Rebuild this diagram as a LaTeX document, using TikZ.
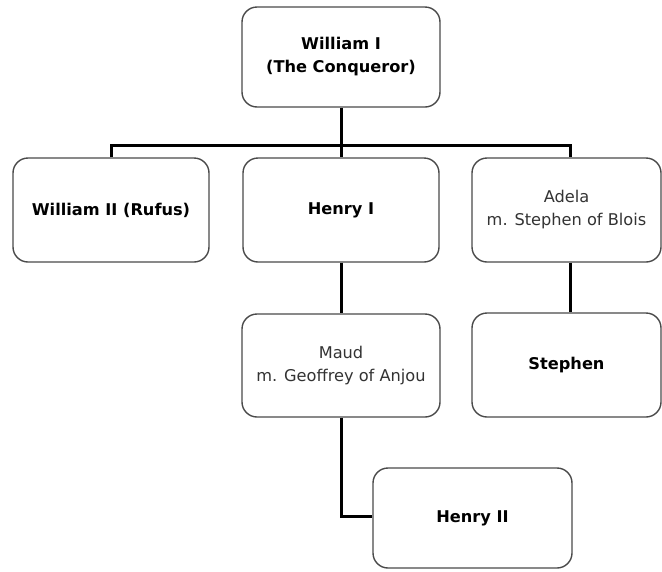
\documentclass[tikz,border=0pt]{standalone}
\usepackage{fontspec}
\setmainfont{DejaVu Sans}
\definecolor{boxline}{HTML}{4A4A4A}
\definecolor{softtext}{HTML}{333333}
\begin{document}
\begin{tikzpicture}[x=1pt,y=-1pt,
  person/.style={draw=boxline, line width=1.4pt, rounded corners=15pt, fill=white,
    minimum width=196pt, minimum height=104pt, align=center, inner sep=0pt,
    font=\fontsize{16.2pt}{23pt}\selectfont},
  boldname/.style={person, font=\fontsize{16.2pt}{23pt}\selectfont\bfseries},
  plainname/.style={person, text=softtext},
  conn/.style={draw=black, line width=3pt}]
\useasboundingbox (0,0) rectangle (662,571);
\node[boldname, minimum width=198pt, minimum height=100pt] (w1) at (341,57) {William I\\(The Conqueror)};
\node[boldname] (w2) at (111,210) {William II (Rufus)};
\node[boldname] (h1) at (341,210) {Henry I};
\node[plainname, minimum width=189pt] (adela) at (566.5,210) {Adela\\m. Stephen of Blois};
\node[plainname, minimum width=198pt, minimum height=103pt] (maud) at (341,365.5) {Maud\\m. Geoffrey of Anjou};
\node[boldname, minimum width=189pt] (stephen) at (566.5,365) {Stephen};
\node[boldname, minimum width=199pt, minimum height=100pt] (h2) at (472.5,518) {Henry II};
\coordinate (bar) at (341,145);
\draw[conn] (w1.south) -- (bar);
\draw[conn] (w2.north) |- (bar) -| ([xshift=3.5pt]adela.north);
\draw[conn] (bar) -- (h1.north);
\draw[conn] (h1.south) -- (maud.north);
\draw[conn] ([xshift=3.5pt]adela.south) -- ([xshift=3.5pt]stephen.north);
\draw[conn] (maud.south) |- ([yshift=2pt]h2.west);
\end{tikzpicture}
\end{document}
